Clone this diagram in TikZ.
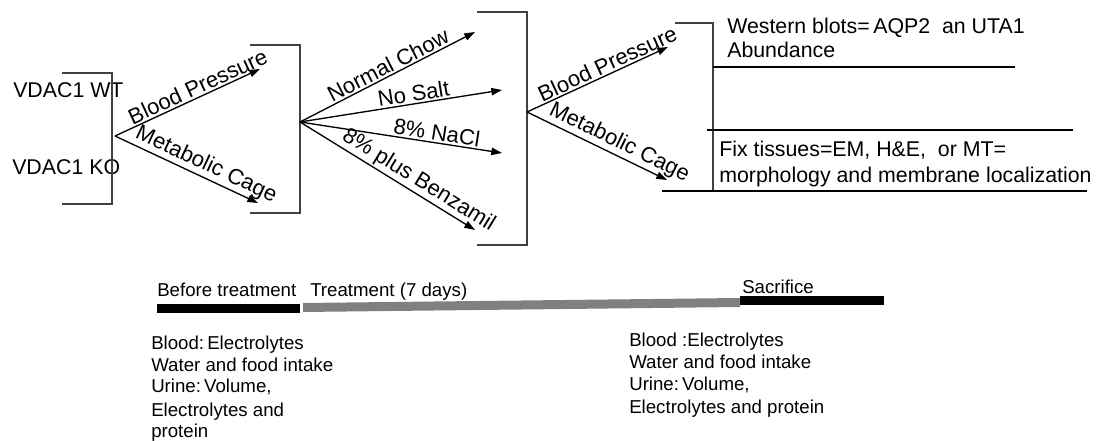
\documentclass[tikz,border=0pt]{standalone}
\usepackage{fontspec}
\setmainfont{Liberation Sans}
\usetikzlibrary{arrows.meta}
\begin{document}
\begin{tikzpicture}[x=0.75pt,y=-0.75pt,
  brk/.style={draw=black!75,line width=1.1pt},
  arr/.style={draw=black,line width=1pt,-{Triangle[length=8pt,width=5.5pt]}},
  rule/.style={draw=black,line width=0.9pt},
  lbl/.style={sloped,above,inner sep=1.2pt,font=\fontsize{16.5}{19}\selectfont},
  txt/.style={anchor=base west,inner sep=0pt,font=\fontsize{16}{19}\selectfont},
  btxt/.style={anchor=base west,inner sep=0pt,font=\fontsize{14}{16}\selectfont}]
\useasboundingbox (0,0) rectangle (1107,441);
% group 1
\node[txt] (wt) at (13,98) {VDAC1 WT};
\node[txt] (ko) at (12,175) {VDAC1 KO};
\draw[brk] (62,73) -- (112,73) -- (112,204) -- (62,204);
\coordinate (a1) at (115,136);
\coordinate (bp1) at (260,69);
\coordinate (mc1) at (258,203);
\draw[arr] (a1) -- node[lbl,pos=0.6] (bpl1) {Blood Pressure} (bp1);
\draw[arr] (a1) -- node[lbl,pos=0.6] (mcl1) {Metabolic Cage} (mc1);
% group 2
\draw[brk] (250,45) -- (300,45) -- (300,213) -- (250,213);
\coordinate (a2) at (300,122);
\coordinate (nc) at (475,32);
\coordinate (ns) at (502,90);
\coordinate (na) at (502,153);
\coordinate (bz) at (475,230);
\draw[arr] (a2) -- node[lbl,pos=0.53] (ncl) {Normal Chow} (nc);
\draw[arr] (a2) -- node[lbl,pos=0.57] (nsl) {No Salt} (ns);
\draw[arr] (a2) -- node[lbl,pos=0.67] (nal) {8\% NaCl} (na);
\draw[arr] (a2) -- node[lbl,pos=0.64] (bzl) {8\% plus Benzamil} (bz);
% group 3
\draw[brk] (477,12) -- (527,12) -- (527,245) -- (477,245);
\coordinate (a3) at (527,112);
\coordinate (bp3) at (668,47);
\coordinate (mc3) at (667,180);
\draw[arr] (a3) -- node[lbl,pos=0.6] (bpl3) {Blood Pressure} (bp3);
\draw[arr] (a3) -- node[lbl,pos=0.62] (mcl3) {Metabolic Cage} (mc3);
% group 4
\draw[brk] (675,23) -- (713,23) -- (713,191);
\coordinate (r1s) at (713,67);
\coordinate (r1e) at (1015,67);
\coordinate (r2s) at (707,130);
\coordinate (r2e) at (1073,130);
\coordinate (r3s) at (662,191);
\coordinate (r3e) at (1087,191);
\draw[rule] (r1s) -- (r1e);
\draw[rule] (r2s) -- (r2e);
\draw[rule] (r3s) -- (r3e);
\node[txt] (wb1) at (727,34) {Western blots=\,AQP2\ \ an UTA1};
\node[txt] (wb2) at (727,58) {Abundance};
\node[txt] (fx1) at (719,157) {Fix tissues=EM, H\&E,\ \ or MT=};
\node[txt] (fx2) at (719,183) {morphology and membrane localization};
% timeline
\fill[black] (157,304) rectangle (300,313);
\fill[black!50] (303,303) -- (740,298) -- (740,307) -- (303,312) -- cycle;
\fill[black] (740,296) rectangle (884,305);
\node[btxt] (bt) at (157,297) {Before treatment};
\node[btxt] (tr) at (310,297) {Treatment (7 days)};
\node[btxt] (sc) at (742,294) {Sacrifice};
% bottom texts
\node[btxt] (l1) at (151,350) {Blood:\,Electrolytes};
\node[btxt] (l2) at (151,372) {Water and food intake};
\node[btxt] (l3) at (151,393) {Urine:\,Volume,};
\node[btxt] (l4) at (151,417) {Electrolytes and};
\node[btxt] (l5) at (151,438) {protein};
\node[btxt] (r1) at (629,347) {Blood :Electrolytes};
\node[btxt] (r2) at (629,369) {Water and food intake};
\node[btxt] (r3) at (629,391) {Urine:\,Volume,};
\node[btxt] (r4) at (629,414) {Electrolytes and protein};
\end{tikzpicture}
\end{document}
